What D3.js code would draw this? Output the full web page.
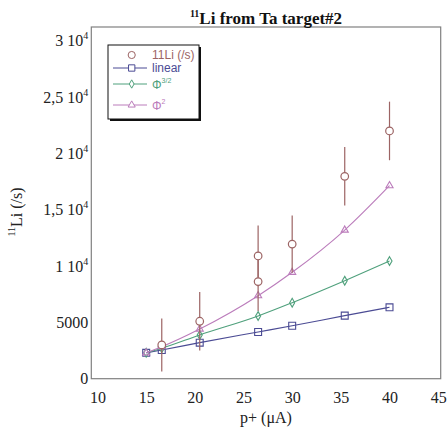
<!DOCTYPE html>
<html>
<head>
<meta charset="utf-8">
<script src="https://cdn.jsdelivr.net/npm/d3@7"></script>
<style>
  body { margin: 0; background: #fff; }
  svg { display: block; }
</style>
</head>
<body>
<div id="chart"></div>
<script>
// data
var xs      = [15, 16.6, 20.5, 26.5, 30, 35.4, 40];
var linear  = [2300, 2550, 3200, 4150, 4700, 5600, 6340];
var phi32   = [2300, 2700, 3880, 5570, 6750, 8700, 10450];
var phi2    = [2300, 2840, 4410, 7370, 9450, 13200, 17140];

var meas_x   = [16.6, 20.5, 26.5, 26.5, 30, 35.4, 40];
var meas_val = [3000, 5100, 10900, 8620, 11950, 17970, 22000];
var meas_err = [2350, 2600, 2700, 2600, 2550, 2600, 2600];

var x_ticks = [10, 15, 20, 25, 30, 35, 40, 45];
var y_ticks = [0, 5000, 10000, 15000, 20000, 25000, 30000];
var y_tick_labels = [['0', ''], ['5000', ''], ['1 10', '4'], ['1,5 10', '4'],
                     ['2 10', '4'], ['2,5 10', '4'], ['3 10', '4']];

var width  = 448;
var height = 428;

var meas_color   = '#9c6464';
var linear_color = '#4b4b94';
var phi32_color  = '#4fa07c';
var phi2_color   = '#bb7cbb';

var serif = '"Liberation Serif", "Times New Roman", serif';
var sans  = '"Liberation Sans", Arial, sans-serif';

var svg = d3.select('#chart')
    .append('svg')
    .attr('width', width)
    .attr('height', height);

var x_scale = d3.scaleLinear().domain([9.36, 45.26]).range([91.3, 440.7]);
var y_scale = d3.scaleLinear().domain([0, 31230]).range([378.7, 27]);

// frame
svg.append('rect')
    .attr('x', x_scale.range()[0])
    .attr('y', y_scale.range()[1])
    .attr('width', x_scale.range()[1] - x_scale.range()[0])
    .attr('height', y_scale.range()[0] - y_scale.range()[1])
    .attr('fill', 'none')
    .attr('stroke', '#808080')
    .attr('stroke-width', 1.2);

// axes
var x_axis = d3.axisBottom(x_scale).tickValues(x_ticks).tickSize(0).tickPadding(13);
var gx = svg.append('g')
    .attr('transform', 'translate(0,' + y_scale.range()[0] + ')')
    .call(x_axis);
gx.select('.domain').remove();
gx.selectAll('text')
    .attr('font-family', serif)
    .attr('font-size', 16)
    .attr('fill', '#222');

var y_axis = d3.axisLeft(y_scale).tickValues(y_ticks).tickSize(0).tickPadding(3).tickFormat('');
var gy = svg.append('g')
    .attr('transform', 'translate(' + x_scale.range()[0] + ',0)')
    .call(y_axis);
gy.select('.domain').remove();
gy.selectAll('.tick text')
    .attr('font-family', serif)
    .attr('font-size', 16)
    .attr('fill', '#222')
    .each(function(d, i) {
        var t = d3.select(this);
        t.append('tspan').text(y_tick_labels[i][0]);
        if (y_tick_labels[i][1]) {
            t.append('tspan')
                .attr('font-size', 10)
                .attr('dy', -7)
                .text(y_tick_labels[i][1]);
        }
    });

// series lines
function series(vals) {
    return xs.map(function(x, i) { return {x: x, y: vals[i]}; });
}
var line = d3.line()
    .x(function(d) { return x_scale(d.x); })
    .y(function(d) { return y_scale(d.y); })
    .curve(d3.curveMonotoneX);

var all = [
    {vals: linear, color: linear_color, sym: d3.symbolSquare, size: 48},
    {vals: phi32,  color: phi32_color,  sym: d3.symbolDiamond, size: 22},
    {vals: phi2,   color: phi2_color,   sym: d3.symbolTriangle, size: 22}
];

all.forEach(function(s) {
    svg.append('path')
        .datum(series(s.vals))
        .attr('d', line)
        .attr('fill', 'none')
        .attr('stroke', s.color)
        .attr('stroke-width', 1.1);
    svg.append('g').selectAll('path')
        .data(series(s.vals))
        .enter()
        .append('path')
        .attr('transform', function(d) {
            return 'translate(' + x_scale(d.x) + ',' + y_scale(d.y) + ')';
        })
        .attr('d', d3.symbol().type(s.sym).size(s.size))
        .attr('fill', 'none')
        .attr('stroke', s.color)
        .attr('stroke-width', 1.1);
});

// measured points with error bars
var meas = meas_x.map(function(x, i) {
    return {x: x, y: meas_val[i], e: meas_err[i]};
});
svg.append('g').selectAll('line')
    .data(meas)
    .enter()
    .append('line')
    .attr('x1', function(d) { return x_scale(d.x); })
    .attr('x2', function(d) { return x_scale(d.x); })
    .attr('y1', function(d) { return y_scale(d.y - d.e); })
    .attr('y2', function(d) { return y_scale(d.y + d.e); })
    .attr('stroke', meas_color)
    .attr('stroke-width', 1.2);
svg.append('g').selectAll('circle')
    .data(meas)
    .enter()
    .append('circle')
    .attr('cx', function(d) { return x_scale(d.x); })
    .attr('cy', function(d) { return y_scale(d.y); })
    .attr('r', 3.8)
    .attr('fill', '#fff')
    .attr('stroke', meas_color)
    .attr('stroke-width', 1.2);

// legend
var lg = svg.append('g');
lg.append('rect')
    .attr('x', 110).attr('y', 47).attr('width', 91).attr('height', 74)
    .attr('fill', '#111');
lg.append('rect')
    .attr('x', 108).attr('y', 45).attr('width', 91).attr('height', 74)
    .attr('fill', '#fff').attr('stroke', '#111').attr('stroke-width', 1);

var legend_rows = [
    {y: 55,  color: meas_color,   sym: d3.symbolCircle,   size: 40, line: false, label: '11Li (/s)', sup: ''},
    {y: 68,  color: linear_color, sym: d3.symbolSquare,   size: 40, line: true,  label: 'linear',    sup: ''},
    {y: 84,  color: phi32_color,  sym: d3.symbolDiamond,  size: 20, line: true,  label: 'Φ',         sup: '3/2'},
    {y: 105, color: phi2_color,   sym: d3.symbolTriangle, size: 22, line: true,  label: 'Φ',         sup: '2'}
];
legend_rows.forEach(function(r) {
    if (r.line) {
        lg.append('line')
            .attr('x1', 113).attr('x2', 147)
            .attr('y1', r.y).attr('y2', r.y)
            .attr('stroke', r.color).attr('stroke-width', 1);
    }
    lg.append('path')
        .attr('transform', 'translate(131.7,' + r.y + ')')
        .attr('d', d3.symbol().type(r.sym).size(r.size))
        .attr('fill', '#fff')
        .attr('stroke', r.color)
        .attr('stroke-width', 1);
    var t = lg.append('text')
        .attr('x', 152)
        .attr('y', r.y + (r.sup ? 5 : 4))
        .attr('font-family', sans)
        .attr('font-size', 12)
        .attr('fill', r.color);
    t.append('tspan').text(r.label);
    if (r.sup) {
        t.append('tspan').attr('font-size', 7).attr('dy', -6).text(r.sup);
    }
});

// title
var title = svg.append('text')
    .attr('x', 266)
    .attr('y', 24)
    .attr('text-anchor', 'middle')
    .attr('font-family', serif)
    .attr('font-weight', 'bold')
    .attr('font-size', 17)
    .attr('fill', '#111');
title.append('tspan').attr('font-size', 10).attr('dy', -7).text('11');
title.append('tspan').attr('dy', 7).text('Li from Ta target#2');

// axis labels
svg.append('text')
    .attr('x', 266)
    .attr('y', 423)
    .attr('text-anchor', 'middle')
    .attr('font-family', serif)
    .attr('font-size', 16)
    .attr('fill', '#222')
    .text('p+ (\u03bcA)');

var ylab = svg.append('text')
    .attr('transform', 'translate(22,212) rotate(-90)')
    .attr('text-anchor', 'middle')
    .attr('font-family', serif)
    .attr('font-size', 16)
    .attr('fill', '#222');
ylab.append('tspan').attr('font-size', 10).attr('dy', -7).text('11');
ylab.append('tspan').attr('dy', 7).text('Li (/s)');
</script>
</body>
</html>
